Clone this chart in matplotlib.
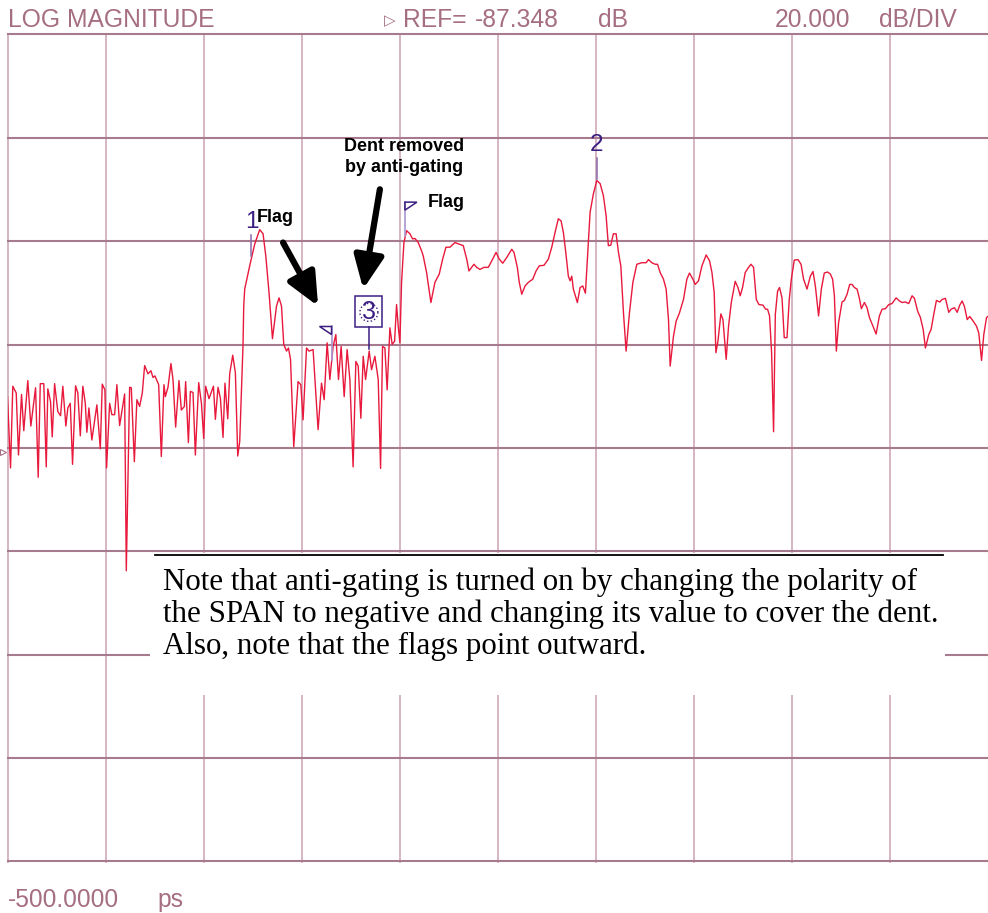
import numpy as np
import matplotlib
matplotlib.use("Agg")
import matplotlib.pyplot as plt
import matplotlib.transforms as mtransforms
from matplotlib.patches import Rectangle, Polygon

# Time-domain response (log magnitude) after anti-gating
time_ps = [
    -500.0, -496.9, -494.6, -491.1, -488.8, -485.7, -483.4, -479.3, -476.2, -471.4,
    -468.7, -466.6, -463.0, -460.5, -458.9, -456.1, -454.4, -452.0, -448.7, -445.9,
    -443.6, -440.5, -438.5, -436.0, -433.7, -430.6, -428.3, -425.8, -423.2, -420.7,
    -419.1, -417.0, -414.0, -408.9, -405.4, -403.4, -400.7, -399.0, -395.9, -393.6,
    -390.8, -388.5, -385.7, -380.6, -378.9, -375.5, -373.8, -370.7, -368.1, -365.3,
    -362.6, -360.2, -356.8, -353.8, -351.7, -349.7, -347.2, -345.9, -343.2, -340.5,
    -339.1, -336.4, -333.4, -331.3, -328.6, -325.2, -322.8, -319.7, -318.4, -315.6,
    -313.6, -310.9, -308.5, -305.1, -302.3, -300.0, -298.0, -294.6, -290.1, -288.1,
    -285.4, -283.0, -280.3, -278.3, -275.5, -273.5, -270.4, -267.7, -265.3, -263.3,
    -259.9, -259.2, -258.2, -253.1, -248.0, -242.9, -239.5, -236.7, -233.4, -229.9,
    -225.8, -223.2, -220.7, -218.4, -215.6, -213.6, -211.5, -208.2, -203.8, -201.0,
    -198.7, -195.2, -192.6, -188.5, -183.4, -179.9, -177.2, -174.2, -171.4, -168.1,
    -165.3, -162.6, -159.9, -156.8, -153.8, -151.0, -147.7, -144.9, -142.5, -139.8,
    -137.4, -135.0, -131.3, -128.9, -125.5, -122.1, -119.7, -117.7, -115.3, -113.0,
    -110.2, -107.9, -105.4, -103.4, -101.7, -100.0, -98.3, -95.9, -93.2, -89.8,
    -87.0, -84.7, -81.3, -77.9, -76.2, -72.8, -68.4, -64.3, -59.9, -56.4,
    -53.1, -49.0, -43.9, -39.5, -35.4, -31.9, -29.6, -26.8, -24.5, -21.7,
    -18.4, -14.3, -9.9, -5.4, -2.0, 1.3, 4.8, 8.9, 14.0, 16.3,
    19.7, 21.7, 24.2, 27.6, 30.9, 35.4, 38.8, 42.1, 46.9, 51.3,
    54.8, 58.2, 61.5, 64.3, 66.6, 69.1, 71.7, 73.5, 75.2, 76.8,
    80.9, 83.7, 86.4, 89.1, 91.1, 93.9, 97.2, 100.7, 104.1, 107.4,
    110.2, 112.5, 115.0, 117.6, 120.4, 122.8, 125.2, 127.9, 130.6, 134.0,
    137.5, 141.5, 146.6, 151.0, 153.4, 156.8, 160.2, 162.6, 165.3, 168.7,
    171.4, 173.8, 175.5, 178.9, 181.6, 185.0, 189.1, 192.5, 195.2, 198.7,
    201.0, 204.4, 207.9, 212.2, 215.6, 218.1, 220.4, 222.1, 224.2, 227.2,
    229.3, 232.6, 235.0, 237.8, 241.8, 244.6, 246.9, 249.3, 252.0, 255.4,
    257.9, 260.5, 263.3, 266.0, 270.1, 272.8, 274.8, 276.8, 278.9, 280.9,
    282.7, 285.0, 287.0, 289.5, 291.8, 294.6, 296.9, 299.0, 302.0, 305.8,
    308.9, 311.5, 315.0, 318.4, 321.1, 323.5, 326.8, 329.6, 332.6, 336.0,
    338.8, 341.1, 342.9, 344.9, 347.2, 350.7, 353.1, 355.8, 358.5, 360.9,
    363.3, 366.0, 368.4, 370.4, 373.5, 376.2, 378.6, 382.3, 385.4, 388.8,
    391.5, 394.9, 398.3, 401.7, 405.8, 409.2, 411.9, 415.3, 418.7, 422.1,
    424.5, 427.8, 430.6, 433.4, 435.7, 439.1, 441.5, 444.2, 446.9, 450.3,
    452.8, 456.1, 459.5, 461.9, 465.3, 468.1, 470.7, 473.2, 475.5, 478.3,
    480.9, 484.4, 487.8, 490.1, 492.9, 495.2, 498.0, 500.0,
]
mag_db = [
    -77.4, -91.2, -75.4, -76.7, -88.7, -77.0, -84.0, -74.3, -83.1, -75.7,
    -93.0, -74.9, -74.9, -91.0, -75.9, -78.4, -85.2, -74.9, -80.3, -81.1,
    -75.4, -83.1, -79.6, -78.7, -90.5, -75.3, -76.7, -85.0, -75.4, -78.7,
    -84.3, -79.6, -85.8, -79.0, -87.5, -75.0, -76.1, -91.2, -78.7, -80.9,
    -80.9, -75.1, -83.0, -76.9, -111.1, -75.6, -75.7, -90.0, -78.0, -79.3,
    -76.7, -71.4, -73.0, -72.4, -73.7, -73.4, -74.5, -75.1, -89.0, -75.1,
    -77.4, -75.6, -71.0, -74.1, -83.3, -74.3, -80.0, -79.3, -74.5, -86.3,
    -76.4, -76.6, -88.7, -74.7, -78.7, -85.5, -75.4, -77.8, -75.4, -81.8,
    -75.6, -77.7, -85.3, -74.8, -81.7, -73.0, -69.4, -72.8, -88.9, -86.1,
    -67.3, -59.9, -56.6, -52.1, -47.9, -45.1, -45.9, -50.2, -57.3, -66.2,
    -59.9, -58.3, -59.9, -67.3, -68.6, -68.0, -70.2, -87.1, -74.5, -75.1,
    -81.9, -68.0, -68.6, -68.3, -83.8, -74.8, -78.0, -67.0, -74.1, -67.7,
    -65.4, -74.1, -67.7, -77.4, -68.3, -74.1, -91.0, -70.6, -71.5, -81.6,
    -69.6, -74.1, -68.6, -72.2, -69.6, -74.1, -91.3, -67.7, -68.0, -76.1,
    -64.1, -67.3, -66.7, -59.6, -63.8, -67.0, -55.3, -47.6, -45.3, -45.9,
    -46.9, -46.8, -47.6, -49.2, -50.2, -53.4, -59.2, -55.3, -53.7, -50.8,
    -48.5, -48.5, -47.6, -47.9, -48.2, -50.8, -53.1, -52.4, -51.8, -52.4,
    -52.8, -52.4, -52.4, -50.8, -49.5, -50.8, -51.6, -50.5, -48.9, -49.5,
    -52.4, -55.3, -57.6, -56.0, -55.3, -54.7, -53.1, -52.1, -52.0, -50.8,
    -48.5, -45.6, -43.0, -43.4, -45.6, -49.5, -54.1, -55.0, -54.1, -56.6,
    -59.2, -56.3, -56.0, -57.4, -50.8, -41.7, -38.2, -35.6, -36.2, -38.5,
    -42.4, -48.2, -48.1, -45.9, -45.9, -49.5, -52.1, -61.2, -68.6, -61.2,
    -55.3, -51.8, -51.5, -51.5, -50.9, -51.5, -51.8, -51.8, -53.4, -54.7,
    -56.6, -62.5, -71.5, -65.7, -62.8, -61.2, -58.6, -54.7, -53.5, -54.7,
    -55.7, -55.0, -52.1, -50.0, -51.1, -53.4, -57.3, -68.9, -66.7, -61.4,
    -62.5, -70.2, -63.8, -59.2, -55.1, -56.3, -57.9, -56.3, -53.4, -52.4,
    -51.8, -52.4, -58.6, -59.6, -59.7, -60.5, -60.5, -61.8, -68.9, -84.2,
    -61.5, -57.0, -56.3, -58.3, -66.0, -66.0, -58.6, -54.7, -51.0, -50.9,
    -51.8, -54.7, -56.6, -54.1, -53.2, -56.0, -61.8, -56.6, -53.5, -53.3,
    -53.7, -54.7, -57.9, -68.6, -63.1, -59.1, -58.8, -57.6, -55.7, -55.7,
    -56.3, -56.6, -58.4, -60.4, -59.2, -60.2, -62.1, -63.8, -65.3, -61.8,
    -60.5, -60.4, -59.6, -59.4, -58.3, -58.9, -59.2, -59.1, -59.4, -57.9,
    -58.4, -60.9, -62.1, -64.4, -68.0, -65.4, -64.4, -61.5, -58.8, -59.1,
    -58.6, -58.4, -61.1, -60.5, -60.2, -61.1, -59.7, -58.9, -60.0, -62.5,
    -61.9, -62.8, -63.8, -65.1, -70.4, -65.4, -62.1, -61.8,
]

ref_db = -87.348
db_per_div = 20.0
start_ps = -500.0
ps_per_div = 100.0

marker_ps = [-251.3, 100.7, -131.6]
marker_names = ["1", "2", "3"]
gate_start_ps = -169.7
gate_stop_ps = -94.9

note_lines = [
    "Note that anti-gating is turned on by changing the polarity of",
    "the SPAN to negative and changing its value to cover the dent.",
    "Also, note that the flags point outward.",
]

W, H = 988, 913
screen = "#a56e82"
grid_h = "#a57b8d"
grid_v = "#d3b0bd"
trace_c = "#e8193c"
mkr_c = "#3c1e82"
sans = ["Liberation Sans", "DejaVu Sans"]

fig = plt.figure(figsize=(W / 100, H / 100), dpi=100)
ax = fig.add_axes([7.5 / W, 51.5 / H, 981 / W, 827 / H])
ax.set_xlim(start_ps, start_ps + 10 * ps_per_div)
ax.set_ylim(ref_db - 4 * db_per_div, ref_db + 4 * db_per_div)
ax.axis("off")

for i in range(11):
    ax.axvline(start_ps + i * ps_per_div, color=grid_v, lw=1.3, zorder=1, clip_on=False)
for k in range(-4, 5):
    ax.axhline(ref_db + k * db_per_div, color=grid_h, lw=1.5, zorder=1, clip_on=False)

# reference position pointer on the left edge
ax.plot([start_ps - 5], [ref_db - 0.8], marker=">", ms=4, mfc="none", mec=screen,
        mew=0.8, clip_on=False, zorder=2)

ax.plot(time_ps, mag_db, color=trace_c, lw=1.0, zorder=3)

pix = mtransforms.IdentityTransform()


def to_px(t, v):
    return ax.transData.transform((t, v))


def trace_at(t):
    return np.interp(t, time_ps, mag_db)


# markers
for name, t in zip(marker_names, marker_ps):
    x0, y0 = to_px(t, trace_at(t))
    if name == "3":
        ax.plot([x0, x0], [y0 + 4, y0 + 26], color=mkr_c, lw=1.1, transform=pix, zorder=6)
        ax.add_patch(Rectangle((x0 - 13.5, y0 + 26), 27, 31, fill=False, ec=mkr_c,
                               lw=1.1, transform=pix, zorder=6))
        ang = np.linspace(0, 2 * np.pi, 60)
        ax.plot(x0 + 9 * np.cos(ang), y0 + 41 + 9 * np.sin(ang), color=mkr_c,
                lw=1.0, ls=":", transform=pix, zorder=6)
        ax.text(x0, y0 + 41, name, color=mkr_c, fontsize=18, family=sans,
                ha="center", va="center", transform=pix, zorder=7)
    else:
        ax.plot([x0, x0], [y0 + 2, y0 + 23], color="#8a6aa8", lw=1.1, transform=pix, zorder=6)
        ax.text(x0, y0 + 25, name, color=mkr_c, fontsize=17.5, family=sans,
                ha="center", va="bottom", transform=pix, zorder=7)

# gate flags
for t, direction in [(gate_start_ps, -1), (gate_stop_ps, 1)]:
    x0, y0 = to_px(t, trace_at(t))
    top = y0 + 36
    ax.plot([x0, x0], [y0 + 2, top], color="#a896d0", lw=1.2, transform=pix, zorder=6)
    ax.add_patch(Polygon([(x0, top), (x0 + direction * 12, top), (x0, top - 8)],
                         closed=True, fill=False, ec=mkr_c, lw=1.1,
                         transform=pix, zorder=6))

# callouts
arrow = dict(arrowstyle="-|>,head_length=1.1,head_width=0.5", lw=4.5,
             color="black", shrinkA=0, shrinkB=0, mutation_scale=18)
ax.annotate("", xy=(-183.4, -59.9), xytext=(-219.1, -47.6), arrowprops=arrow, zorder=8)
ax.annotate("", xy=(-137.4, -56.6), xytext=(-120.4, -37.3), arrowprops=arrow, zorder=8)
bold = dict(fontsize=13, fontweight="bold", family=sans, color="black", zorder=8)
ax.text(-245.9, -43.6, "Flag", ha="left", va="baseline", **bold)
ax.text(-71.4, -40.7, "Flag", ha="left", va="baseline", **bold)
ax.text(-95.9, -29.8, "Dent removed", ha="center", va="baseline", **bold)
ax.text(-95.9, -34.0, "by anti-gating", ha="center", va="baseline", **bold)

# explanatory note panel
fig.patches.append(Rectangle((150 / W, (H - 695) / H), 795 / W, 142 / H, fc="white",
                             ec="none", transform=fig.transFigure, zorder=9))
fig.lines.append(plt.Line2D([155 / W, 943 / W], [(H - 555) / H] * 2, color="black",
                            lw=1.3, transform=fig.transFigure, zorder=10))
for i, line in enumerate(note_lines):
    fig.text(163 / W, (H - 590 - 32 * i) / H, line, fontsize=22.3,
             family=["Liberation Serif", "DejaVu Serif"], color="black",
             ha="left", va="baseline", zorder=11)

# screen annotations
head = dict(fontsize=17.7, family=sans, color=screen, va="baseline")
fig.text(8 / W, (H - 27) / H, "LOG MAGNITUDE", ha="left", **head)
fig.text(384 / W, (H - 25) / H, "\u25b7", ha="left", fontsize=11, family=["DejaVu Sans"],
         color=screen, va="baseline")
fig.text(403 / W, (H - 27) / H, "REF=", ha="left", **head)
fig.text(475 / W, (H - 27) / H, f"{ref_db:.3f}", ha="left", **head)
fig.text(598 / W, (H - 27) / H, "dB", ha="left", **head)
fig.text(775 / W, (H - 27) / H, f"{db_per_div:.3f}", ha="left", **head)
fig.text(879 / W, (H - 27) / H, "dB/DIV", ha="left", **head)
fig.text(8 / W, 6.5 / H, f"{start_ps:.4f}", ha="left", **head)
fig.text(157 / W, 6.5 / H, "ps", ha="left", **head)

fig.savefig("out.png", dpi=100)
